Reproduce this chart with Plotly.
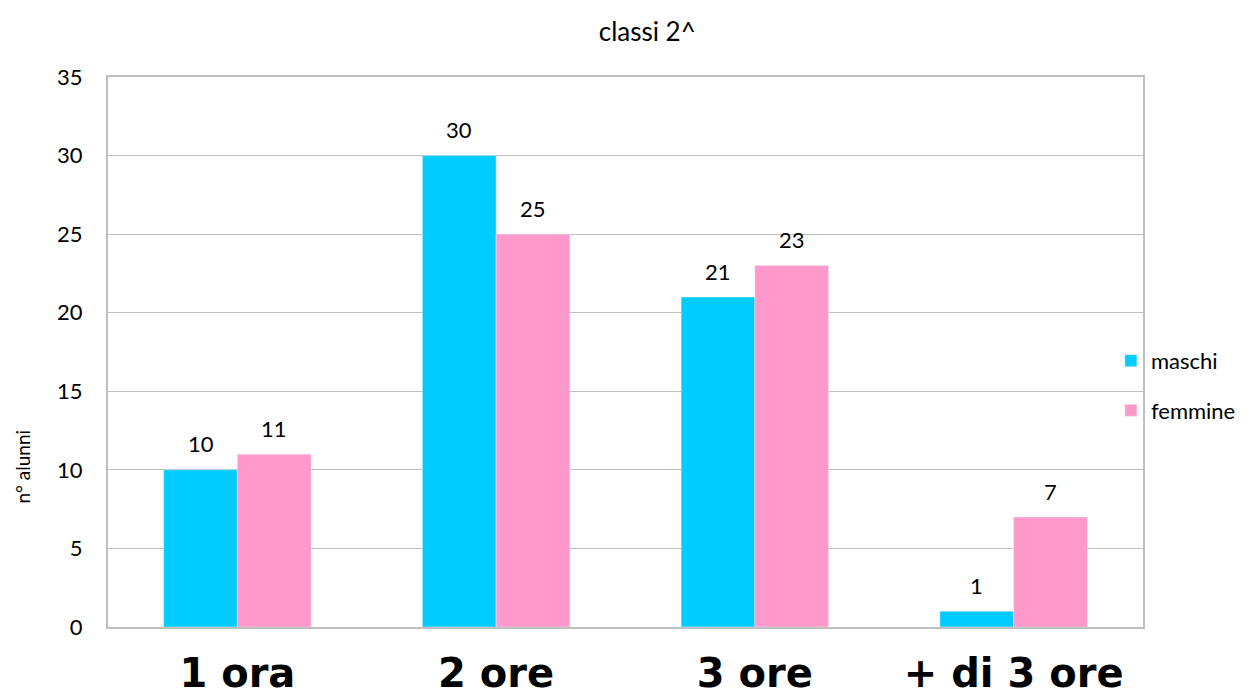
import plotly.graph_objects as go

categorie = ['1 ora', '2 ore', '3 ore', '+ di 3 ore']
maschi = [10, 30, 21, 1]
femmine = [11, 25, 23, 7]
y_ticks = [0, 5, 10, 15, 20, 25, 30, 35]

font_base = 'Lato, Open Sans, sans-serif'
bargap = 0.43
plot_w = 1035
bar_px = plot_w / len(categorie) * (1 - bargap) / 2

fig = go.Figure()
fig.add_trace(go.Bar(x=categorie,
                     y=maschi,
                     name='maschi',
                     legendgroup='m',
                     marker_color='#00CCFF'))
fig.add_trace(go.Bar(x=categorie,
                     y=femmine,
                     name='femmine',
                     legendgroup='f',
                     marker_color='#FF99CC'))

# etichette dei valori sopra le barre
for serie, shift in ((maschi, -bar_px / 2), (femmine, bar_px / 2)):
    for cat, val in zip(categorie, serie):
        fig.add_annotation(x=cat, y=val,
                           text=str(val),
                           xshift=shift, yshift=26,
                           yanchor='middle',
                           showarrow=False,
                           font=dict(size=22, color='#000000'))

fig.update_layout(title=dict(text='classi 2^',
                             x=0.511,
                             xanchor='center',
                             y=0.9656,
                             yanchor='middle',
                             font=dict(size=26, color='#000000', family=font_base)),
                  width=1251,
                  height=697,
                  margin=dict(l=100, r=116, t=69, b=78),
                  font=dict(family=font_base, size=22, color='#000000'),
                  paper_bgcolor='white',
                  plot_bgcolor='white',
                  barmode='group',
                  bargap=bargap,
                  bargroupgap=0,
                  showlegend=True,
                  legend=dict(x=0.969,
                              xanchor='left',
                              y=0.522,
                              yanchor='top',
                              font=dict(size=22, family=font_base),
                              traceorder='grouped',
                              tracegroupgap=18,
                              bgcolor='rgba(0,0,0,0)'))

fig.update_xaxes(showline=True,
                 linecolor='#BFBFBF',
                 linewidth=2,
                 mirror=True,
                 ticks='',
                 automargin=False,
                 ticklabelstandoff=10,
                 tickfont=dict(size=40, family='DejaVu Sans', color='#000000'),
                 tickprefix='<b>',
                 ticksuffix='</b>')
fig.update_yaxes(range=[0, 35],
                 tickvals=y_ticks,
                 showline=True,
                 linecolor='#BFBFBF',
                 linewidth=2,
                 mirror=True,
                 showgrid=True,
                 gridcolor='#BFBFBF',
                 gridwidth=1,
                 zeroline=False,
                 ticks='',
                 automargin=False,
                 ticklabelstandoff=19,
                 tickfont=dict(size=22, color='#000000'))

fig.add_annotation(text='n° alunni',
                   xref='paper', yref='paper',
                   x=-0.0825, y=0.291,
                   xanchor='center', yanchor='middle',
                   textangle=-90,
                   showarrow=False,
                   font=dict(size=19, color='#000000'))

fig.write_html("out.html")
